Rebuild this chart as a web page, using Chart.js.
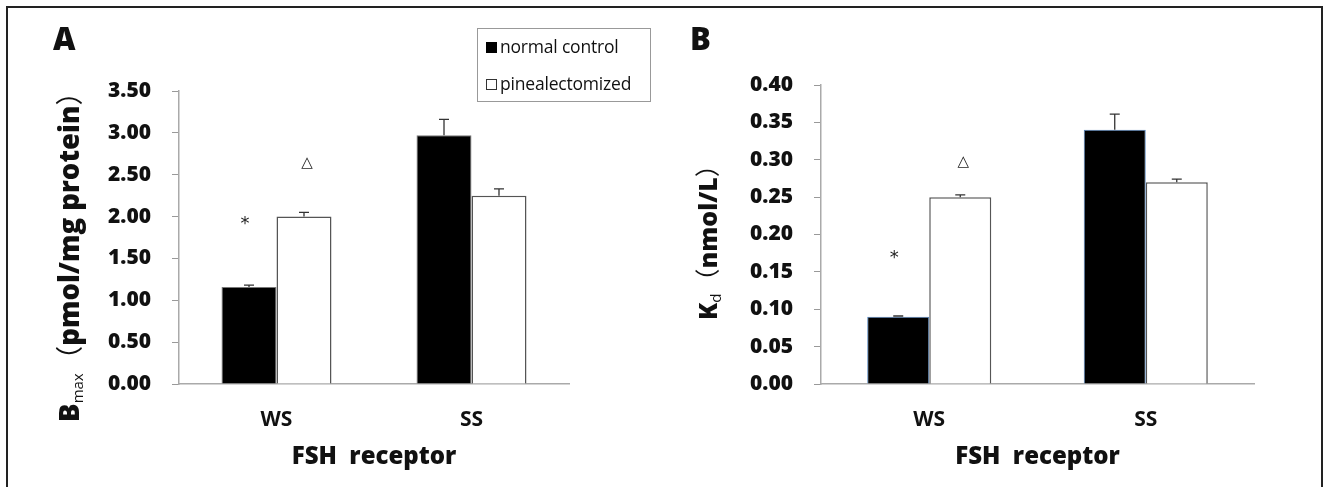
<!DOCTYPE html>
<html>
<head>
<meta charset="utf-8">
<script src="https://cdn.jsdelivr.net/npm/chart.js@4.4.1/dist/chart.umd.min.js"></script>
<style>
  html, body { margin:0; padding:0; background:#fff; }
  #wrap { position:relative; width:1326px; height:487px; overflow:hidden; font-family:"Open Sans", sans-serif; color:#111; }
  #frame { position:absolute; left:6px; top:6px; width:1313px; height:500px; border:2px solid #222; border-bottom:none; }
  canvas { position:absolute; top:0; }
  #cA { left:0; }
  #cB { left:660px; }
  .letter { position:absolute; font-weight:800; font-size:31px; line-height:1; }
  .ytitle { position:absolute; white-space:nowrap; font-weight:800; font-size:25px; transform:translate(-50%,-50%) rotate(-90deg); }
  .ytitle sub { font-size:15px; font-weight:400; vertical-align:-4px; }
  .ytitle .p { font-family:"Noto Sans CJK SC", sans-serif; font-weight:400; }
  #legend { position:absolute; left:477px; top:28px; width:174px; height:74px; border:1px solid #999; box-sizing:border-box; font-size:17.5px; }
  #legend div { position:absolute; left:8px; white-space:nowrap; letter-spacing:-0.2px; }
  #legend span.box { display:inline-block; width:11px; height:11px; margin-right:3px; box-sizing:border-box; vertical-align:0px; }
</style>
</head>
<body>
<div id="wrap">
  <div id="frame"></div>
  <canvas id="cA" width="660" height="487"></canvas>
  <canvas id="cB" width="666" height="487"></canvas>
  <div class="letter" style="left:53px;top:23px;">A</div>
  <div class="letter" style="left:690px;top:23px;">B</div>
  <div class="ytitle" style="left:67px;top:250px;font-size:27.5px;">B<sub>max</sub><span class="p">（</span>pmol/mg protein<span class="p">）</span></div>
  <div class="ytitle" style="left:706px;top:236px;">K<sub>d</sub><span class="p">（</span>nmol/L<span class="p">）</span></div>
  <div id="legend">
    <div style="top:5px;"><span class="box" style="background:#000;"></span>normal control</div>
    <div style="top:42px;"><span class="box" style="background:#fff;border:1px solid #333;"></span>pinealectomized</div>
  </div>
</div>
<script>
// Daten
const categories = ['WS', 'SS'];
const seriesNames = ['normal control', 'pinealectomized'];

const bmaxControl = [1.16, 2.97];
const bmaxPineal = [2.00, 2.25];
const bmaxControlErr = [0.02, 0.19];
const bmaxPinealErr = [0.05, 0.08];

const kdControl = [0.09, 0.34];
const kdPineal = [0.25, 0.27];
const kdControlErr = [0.001, 0.021];
const kdPinealErr = [0.003, 0.004];

// Signifikanz-Zeichen: [dataset, kategorie, zeichen, höhe]
const marksA = [[0, 0, '*', 1.91], [1, 0, '\u25B3', 2.64]];
const marksB = [[0, 0, '*', 0.168], [1, 0, '\u25B3', 0.297]];

// Fehlerbalken + Zeichen
const extras = {
  id: 'extras',
  afterDatasetsDraw(chart, args, opts) {
    const ctx = chart.ctx, y = chart.scales.y;
    ctx.save();
    opts.errors.forEach((errs, di) => {
      const meta = chart.getDatasetMeta(di);
      const vals = chart.data.datasets[di].data;
      meta.data.forEach((bar, i) => {
        const yTop = y.getPixelForValue(vals[i] + errs[i]);
        const yBar = y.getPixelForValue(vals[i]);
        ctx.strokeStyle = '#333'; ctx.lineWidth = 1.3;
        ctx.beginPath();
        ctx.moveTo(bar.x, yBar); ctx.lineTo(bar.x, yTop);
        ctx.moveTo(bar.x - 5, yTop); ctx.lineTo(bar.x + 5, yTop);
        ctx.stroke();
      });
    });
    ctx.fillStyle = '#222';
    ctx.textAlign = 'center'; ctx.textBaseline = 'middle';
    opts.marks.forEach(([di, i, txt, v]) => {
      const bar = chart.getDatasetMeta(di).data[i];
      ctx.font = txt === '*' ? '18px "DejaVu Sans"' : '15px "DejaVu Sans"';
      ctx.fillText(txt, bar.x - (txt === '*' ? 4 : -3), y.getPixelForValue(v));
    });
    ctx.restore();
  }
};

function makeChart(id, ctrl, pine, ctrlErr, pineErr, marks, max, step, pad, yWidth, ctrlBorder, catPct) {
  return new Chart(document.getElementById(id), {
    type: 'bar',
    data: {
      labels: categories,
      datasets: [
        { label: seriesNames[0], data: ctrl, backgroundColor: '#000', borderColor: ctrlBorder, borderWidth: 1,
          categoryPercentage: catPct, barPercentage: 1 },
        { label: seriesNames[1], data: pine, backgroundColor: '#fff', borderColor: '#555', borderWidth: 1.5,
          categoryPercentage: catPct, barPercentage: 1 }
      ]
    },
    options: {
      responsive: false, animation: false, devicePixelRatio: 1,
      layout: { padding: pad },
      plugins: { legend: { display: false }, tooltip: { enabled: false },
        extras: { errors: [ctrlErr, pineErr], marks: marks } },
      scales: {
        x: {
          grid: { display: false, drawTicks: false },
          border: { display: true, color: '#aaa', width: 1.5 },
          ticks: { color: '#111', padding: 23, maxRotation: 0, font: { family: 'Open Sans', size: 21, weight: '700' } },
          title: { display: true, text: 'FSH  receptor', color: '#111', padding: { top: 0, bottom: 15 },
            font: { family: 'Open Sans', size: 24, weight: '800' } },
          afterFit: s => { s.height = 103; }
        },
        y: {
          min: 0, max: max,
          grid: { drawOnChartArea: false, drawTicks: true, tickLength: 7, color: '#999' },
          border: { display: true, color: '#aaa', width: 1.5 },
          ticks: { stepSize: step, color: '#111', padding: 21, callback: v => v.toFixed(2),
            font: { family: 'Open Sans', size: 21, weight: '800' } },
          afterFit: s => { s.width = yWidth; }
        }
      }
    },
    plugins: [extras]
  });
}

makeChart('cA', bmaxControl, bmaxPineal, bmaxControlErr, bmaxPinealErr, marksA, 3.5, 0.5,
  { top: 91, right: 91, bottom: 0, left: 0 }, 179, '#777', 0.564);
makeChart('cB', kdControl, kdPineal, kdControlErr, kdPinealErr, marksB, 0.4, 0.05,
  { top: 85, right: 72, bottom: 0, left: 0 }, 161, '#4f81bd', 0.573);
</script>
</body>
</html>
